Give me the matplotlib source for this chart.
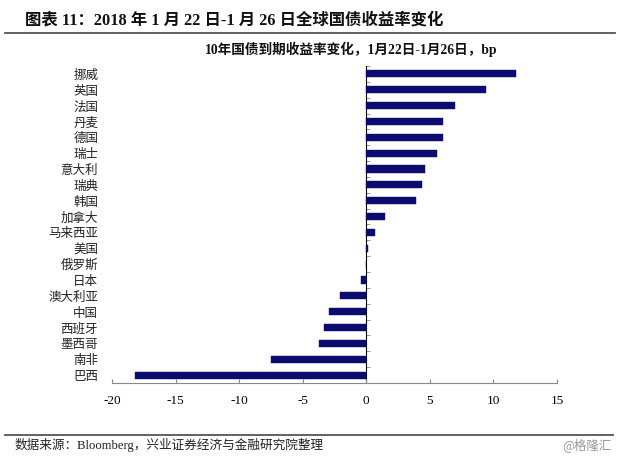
import matplotlib
matplotlib.use("Agg")
import matplotlib.pyplot as plt
import numpy as np

countries = ["挪威", "英国", "法国", "丹麦", "德国", "瑞士", "意大利", "瑞典", "韩国", "加拿大",
             "马来西亚", "美国", "俄罗斯", "日本", "澳大利亚", "中国", "西班牙", "墨西哥", "南非", "巴西"]
changes = [11.8, 9.4, 7.0, 6.0, 6.0, 5.6, 4.6, 4.4, 3.9, 1.5,
           0.7, 0.1, -0.05, -0.4, -2.1, -2.9, -3.3, -3.7, -7.5, -18.2]
xticks = [-20, -15, -10, -5, 0, 5, 10, 15]

FAM = ["Liberation Serif", "Noto Sans CJK SC"]
CJK = ["Noto Sans CJK SC", "DejaVu Sans"]

W, H = 621, 458
fig = plt.figure(figsize=(W / 100, H / 100), dpi=100)

def fx(px):
    return px / W

def fy(py):
    return 1 - py / H

ax = fig.add_axes([fx(112), fy(383), fx(557) - fx(112), fy(66) - fy(383)])
n = len(countries)
ypos = np.arange(n)[::-1]
ax.barh(ypos, changes, height=0.45, color="#0c0c70", edgecolor="#0c0c70", linewidth=0.3)
ax.set_xlim(-20, 15)
ax.set_ylim(-0.5, n - 0.5)
ax.set_xticks(xticks)
ax.set_xticklabels([str(v) for v in xticks], family=FAM, fontsize=9.5)
ax.set_yticks(ypos)
ax.set_yticklabels(countries, family=CJK, fontsize=9, color="#222222")
ax.tick_params(axis="y", length=0, pad=10)
ax.tick_params(axis="x", direction="in", length=3, color="#888888", pad=9)
for s in ["top", "right", "left"]:
    ax.spines[s].set_visible(False)
ax.spines["bottom"].set_color("#888888")
ax.spines["bottom"].set_linewidth(0.8)

sec = ax.secondary_yaxis(20 / 35)
sec.set_yticks(np.arange(-0.5, n, 1.0))
sec.set_yticklabels([])
sec.tick_params(axis="y", direction="out", length=3, color="#888888", width=0.6)
sec.spines["left"].set_color("#888888")
sec.spines["left"].set_linewidth(0.8)

fig.text(fx(25), fy(20), "图表 11：2018 年 1 月 22 日-1 月 26 日全球国债收益率变化",
         family=FAM, fontsize=11.8, fontweight="bold", va="center", ha="left", color="#111111")
fig.add_artist(plt.Line2D([fx(5), fx(615)], [fy(32.5), fy(32.5)], color="#555555", linewidth=1.3))
fig.text(fx(351), fy(49), "10年国债到期收益率变化，1月22日-1月26日，bp",
         family=FAM, fontsize=9.8, fontweight="bold", va="center", ha="center", color="#111111")
fig.add_artist(plt.Line2D([fx(5), fx(613)], [fy(435), fy(435)], color="#555555", linewidth=1.3))
fig.text(fx(15), fy(445), "数据来源：Bloomberg，兴业证券经济与金融研究院整理",
         family=FAM, fontsize=9.1, va="center", ha="left", color="#222222")
fig.text(fx(612), fy(445), "@格隆汇", family=CJK, fontsize=9, va="center", ha="right", color="#999999")

fig.savefig("out.png", dpi=100)
